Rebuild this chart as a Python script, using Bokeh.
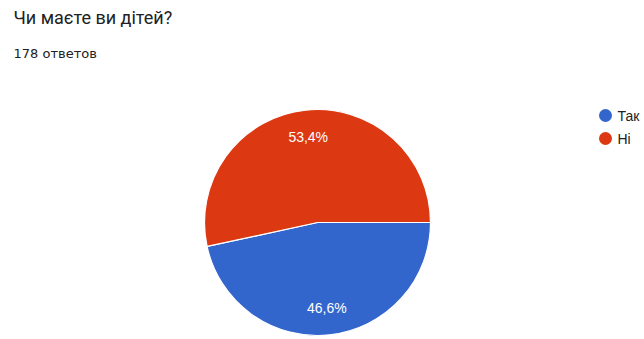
import math
from bokeh.plotting import figure
from bokeh.models import Range1d, ColumnDataSource
from bokeh.core.properties import value
from bokeh.embed import file_html
from bokeh.resources import INLINE

title = "Чи маєте ви дітей?"
subtitle = "178 ответов"
categories = ["Так", "Ні"]
percents = [46.6, 53.4]
colors = ["#3366cc", "#dc3912"]

W, H = 644, 339
p = figure(width=W, height=H, output_backend="svg", toolbar_location=None,
           x_range=Range1d(0, W), y_range=Range1d(0, H), min_border=0)
p.axis.visible = False
p.grid.visible = False
p.outline_line_color = None
p.background_fill_color = "white"
p.border_fill_color = "white"

cx, cy, R = 317, H - 222, 113

ni_frac = percents[1] / 100.0
ang = {"Ні": (0.0, 2 * math.pi * ni_frac), "Так": (2 * math.pi * ni_frac, 2 * math.pi)}
starts = [ang[c][0] for c in categories]
ends = [ang[c][1] for c in categories]

src = ColumnDataSource(dict(cat=categories, pct=percents, start=starts, end=ends, color=colors,
                            x=[cx] * 2, y=[cy] * 2))
p.wedge(x="x", y="y", radius=R, start_angle="start", end_angle="end", fill_color="color",
        line_color="white", line_width=1.2, source=src)

lx, ly, lt = [], [], []
for s, e, v in zip(starts, ends, percents):
    m = (s + e) / 2
    lx.append(cx + 0.77 * R * math.cos(m))
    ly.append(cy + 0.76 * R * math.sin(m))
    lt.append(f"{v:.1f}%".replace(".", ","))
p.text(x=lx, y=ly, text=lt, text_color="white", text_font=value("Liberation Sans"),
       text_font_size="14px", text_align="center", text_baseline="middle")

p.text(x=[13], y=[H - 17], text=[title], text_color="#202124", text_font=value("Roboto"),
       text_font_size="18px", text_align="left", text_baseline="middle")
p.text(x=[13], y=[H - 53], text=[subtitle], text_color="#202124", text_font=value("DejaVu Sans"),
       text_font_size="13px", text_align="left", text_baseline="middle")

leg_y = [H - 115, H - 138]
p.scatter(x=[605, 605], y=leg_y, size=13, marker="circle", fill_color=colors, line_color=None)
p.text(x=[617, 617], y=leg_y, text=categories, text_color="#222222",
       text_font=value("Liberation Sans"), text_font_size="14px",
       text_align="left", text_baseline="middle")

open("out.html", "w").write(file_html(p, INLINE))
